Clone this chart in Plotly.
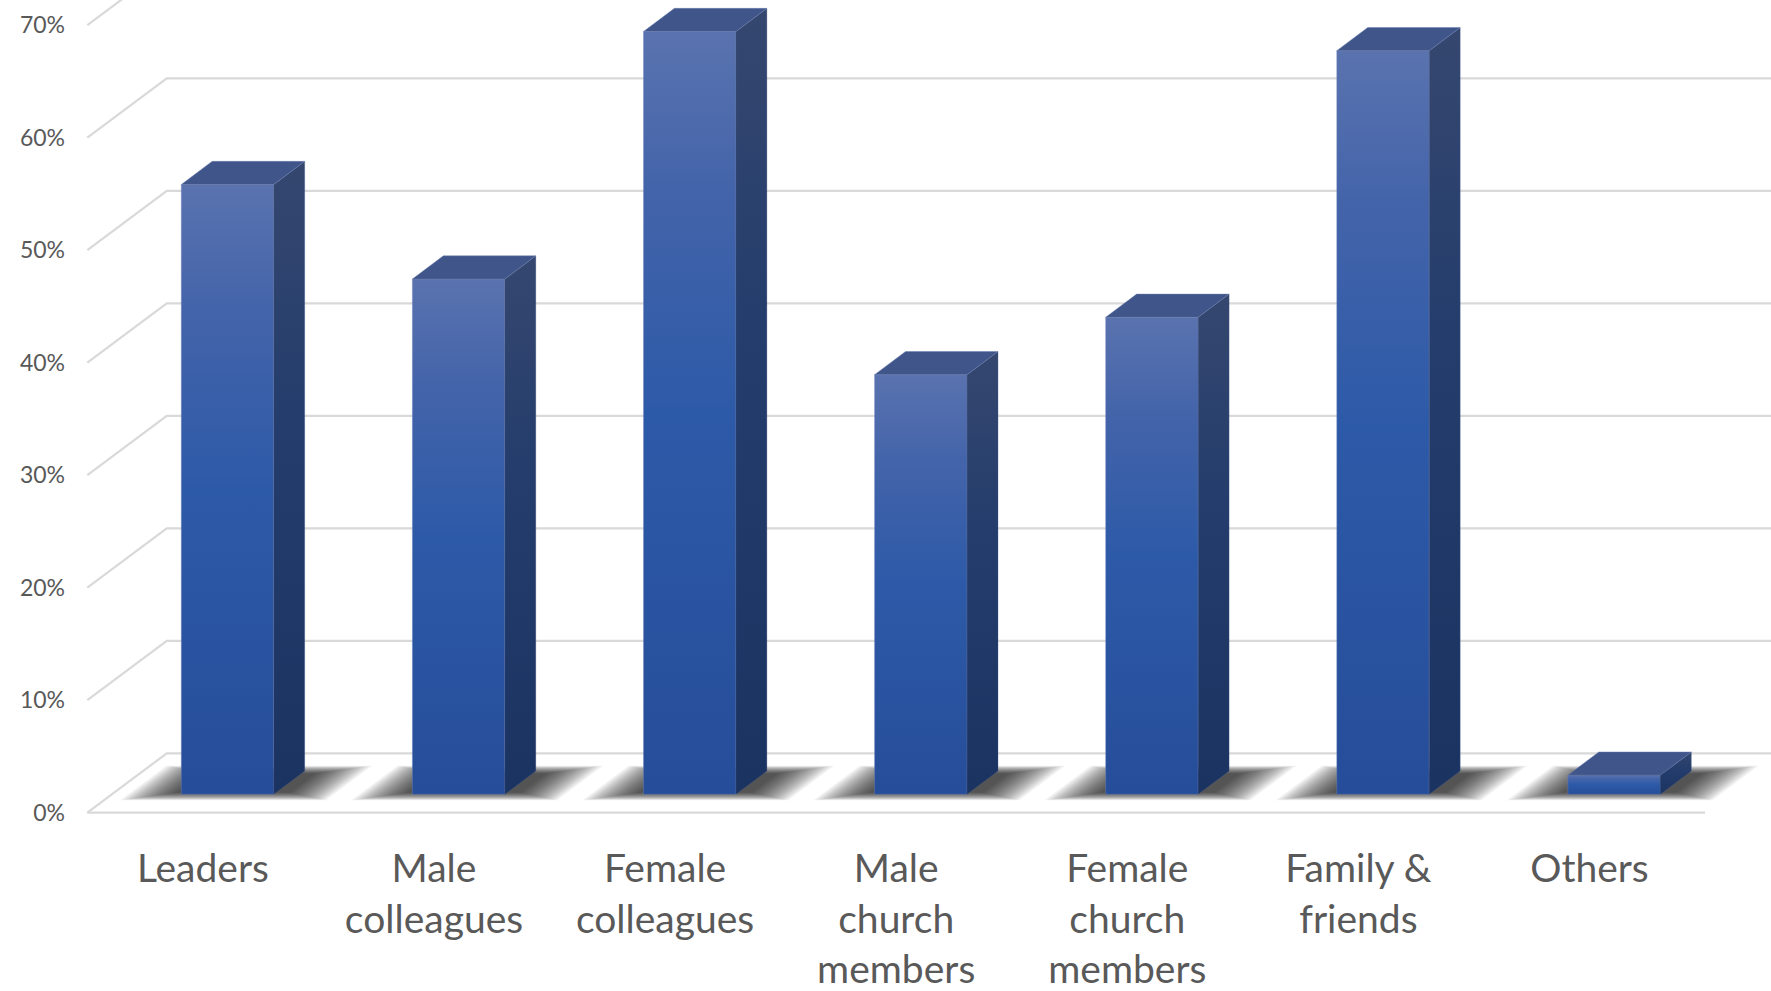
import numpy as np
import plotly.graph_objects as go

# ---- data -------------------------------------------------------------
categories = ["Leaders", "Male colleagues", "Female colleagues",
              "Male church members", "Female church members",
              "Family & friends", "Others"]
tick_labels = ["Leaders", "Male<br>colleagues", "Female<br>colleagues",
               "Male<br>church<br>members", "Female<br>church<br>members",
               "Family &<br>friends", "Others"]
shares = [54.2, 45.8, 67.8, 37.3, 42.4, 66.1, 1.7]   # percent
y_ticks = [0, 10, 20, 30, 40, 50, 60, 70]
y_tick_text = [f"{v}%" for v in y_ticks]

# ---- oblique 3-D projection settings ---------------------------------
DEPTH_X = 0.3436      # horizontal shift of the back wall, in category units
DEPTH_Y = 5.28        # vertical shift of the back wall, in percent units
BAR_W = 0.40          # bar width, category units
D_FRONT, D_BACK = 0.31, 0.70   # bar depth span as a fraction of floor depth
N = len(categories)
X_LEFT, X_RIGHT = -0.5, N - 0.5

GRID = "#d9d9d9"
TEXT = "#595959"
FONT = "Lato, Calibri, sans-serif"


def proj(x, d, v):
    """Project a point (x across, d into depth 0..1, v up) onto the 2-D axes."""
    return x + d * DEPTH_X, v + d * DEPTH_Y


def poly(points):
    xs, ys = zip(*[proj(*p) for p in points])
    return list(xs) + [xs[0]], list(ys) + [ys[0]]


fig = go.Figure()

# ---- walls and floor ---------------------------------------------------
gx, gy = [], []
for v in y_ticks:
    # side wall diagonal
    for p in [(X_LEFT, 0, v), (X_LEFT, 1, v)]:
        x, y = proj(*p); gx.append(x); gy.append(y)
    # back wall line running to the right edge
    x, y = proj(X_RIGHT + 2, 1, v); gx.append(x); gy.append(y)
    gx.append(None); gy.append(None)
# front edge of the floor
for p in [(X_LEFT, 0, 0), (X_RIGHT, 0, 0)]:
    x, y = proj(*p); gx.append(x); gy.append(y)
fig.add_trace(go.Scatter(x=gx, y=gy, mode="lines",
                         line=dict(color=GRID, width=2.2),
                         hoverinfo="skip", showlegend=False))

# ---- soft floor shadows (stacked translucent layers) -------------------
LAYERS = 20
for k in range(LAYERS):
    t = 1 - k / (LAYERS - 1)
    mx, md = 0.20 * t, 0.13 * t
    sx, sy = [], []
    for i in range(N):
        xl = i - BAR_W / 2 - 0.03 - mx
        xr = i + BAR_W / 2 + 0.06 + mx
        d0 = max(D_FRONT + 0.03 - md, 0.04)
        d1 = min(D_BACK - 0.04 + md, 0.97)
        px, py = poly([(xl, d0, 0), (xr, d0, 0), (xr, d1, 0), (xl, d1, 0)])
        sx += px + [None]; sy += py + [None]
    fig.add_trace(go.Scatter(x=sx, y=sy, mode="lines", fill="toself",
                             fillcolor="rgba(0,0,0,0.05)",
                             line=dict(width=0, color="rgba(0,0,0,0)"),
                             hoverinfo="skip", showlegend=False))

# ---- 3-D columns -------------------------------------------------------
front_scale = [[0, "#264d99"], [0.5, "#2d5aa8"], [0.8, "#4464aa"], [1, "#5a73af"]]
side_scale = [[0, "#1a3361"], [0.6, "#243d6c"], [1, "#35476f"]]

for i, (name, v) in enumerate(zip(categories, shares)):
    xl, xr = i - BAR_W / 2, i + BAR_W / 2
    # front face
    fx, fy = poly([(xl, D_FRONT, 0), (xr, D_FRONT, 0), (xr, D_FRONT, v), (xl, D_FRONT, v)])
    fig.add_trace(go.Scatter(x=fx, y=fy, mode="lines", fill="toself",
                             fillgradient=dict(type="vertical", colorscale=front_scale),
                             line=dict(width=0.8, color="rgba(110,130,185,0.55)"),
                             name=name, hovertemplate=f"{name}: {v}%<extra></extra>",
                             showlegend=False))
    # right side face
    rx, ry = poly([(xr, D_FRONT, 0), (xr, D_BACK, 0), (xr, D_BACK, v), (xr, D_FRONT, v)])
    fig.add_trace(go.Scatter(x=rx, y=ry, mode="lines", fill="toself",
                             fillgradient=dict(type="vertical", colorscale=side_scale),
                             line=dict(width=0.6, color="rgba(70,90,140,0.5)"),
                             hoverinfo="skip", showlegend=False))
    # top face
    tx, ty = poly([(xl, D_FRONT, v), (xr, D_FRONT, v), (xr, D_BACK, v), (xl, D_BACK, v)])
    fig.add_trace(go.Scatter(x=tx, y=ty, mode="lines", fill="toself",
                             fillcolor="#40558a",
                             line=dict(width=0.8, color="rgba(105,125,175,0.6)"),
                             hoverinfo="skip", showlegend=False))

# ---- layout ------------------------------------------------------------
W, H = 1771, 991
ML, MB = 70, 170
PX_PER_CAT = 231.1
PX_PER_PCT = 11.25
ZERO_X_PX, ZERO_Y_PX = 202.9, 812.7
x_range = [(ML - ZERO_X_PX) / PX_PER_CAT, (W - ZERO_X_PX) / PX_PER_CAT]
y_range = [-((H - MB) - ZERO_Y_PX) / PX_PER_PCT, ZERO_Y_PX / PX_PER_PCT]

fig.update_layout(
    width=W, height=H,
    margin=dict(l=ML, r=0, t=0, b=MB),
    paper_bgcolor="white", plot_bgcolor="white",
    font=dict(family=FONT, color=TEXT),
    xaxis=dict(range=x_range, tickmode="array", tickvals=list(range(N)),
               ticktext=tick_labels, showgrid=False, zeroline=False,
               showline=False, ticks="", ticklabelstandoff=21,
               tickfont=dict(size=39, color=TEXT, family=FONT), fixedrange=True),
    yaxis=dict(range=y_range, tickmode="array", tickvals=y_ticks,
               ticktext=y_tick_text, showgrid=False, zeroline=False,
               showline=False, ticks="", ticklabelstandoff=4,
               tickfont=dict(size=23, color=TEXT, family=FONT), fixedrange=True),
    showlegend=False,
)

fig.write_html("out.html")
